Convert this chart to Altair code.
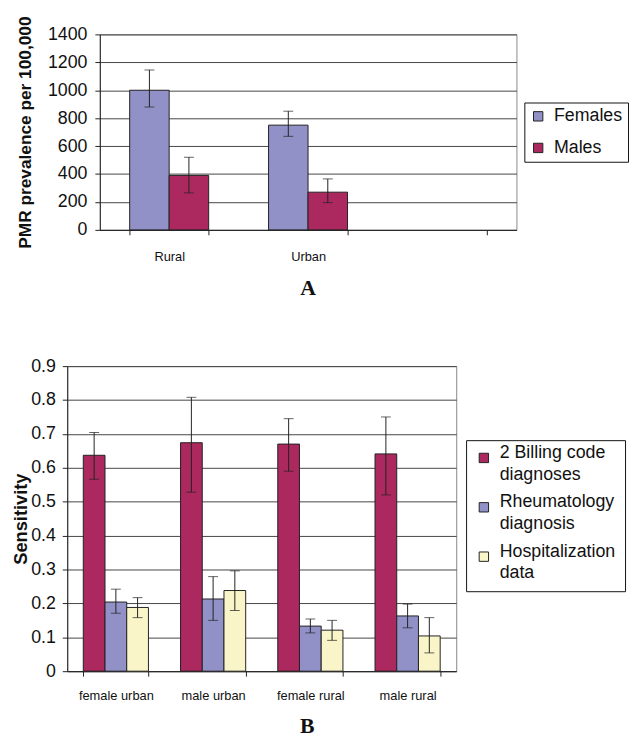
import altair as alt
import pandas as pd

# ---------------- Panel A data ----------------
a_places = ["Rural", "Urban"]
a_domain = ["Rural", "Urban", " "]
a_sexes = ["Females", "Males"]
a_females = [1000, 750]
a_females_low = [880, 670]
a_females_high = [1145, 850]
a_males = [390, 270]
a_males_low = [265, 195]
a_males_high = [520, 365]
a_ticks = [0, 200, 400, 600, 800, 1000, 1200, 1400]

# ---------------- Panel B data ----------------
b_groups = ["female urban", "male urban", "female rural", "male rural"]
b_sources = ["2 Billing code diagnoses", "Rheumatology diagnosis", "Hospitalization data"]
b_label_lines = [["2 Billing code", "diagnoses"], ["Rheumatology", "diagnosis"], ["Hospitalization", "data"]]
b_billing = [0.637, 0.674, 0.670, 0.641]
b_billing_low = [0.566, 0.528, 0.590, 0.520]
b_billing_high = [0.704, 0.808, 0.745, 0.750]
b_rheum = [0.204, 0.213, 0.133, 0.163]
b_rheum_low = [0.171, 0.150, 0.113, 0.128]
b_rheum_high = [0.242, 0.279, 0.154, 0.198]
b_hosp = [0.188, 0.238, 0.121, 0.104]
b_hosp_low = [0.158, 0.179, 0.091, 0.054]
b_hosp_high = [0.217, 0.296, 0.150, 0.158]
b_ticks = [0, 0.1, 0.2, 0.3, 0.4, 0.5, 0.6, 0.7, 0.8, 0.9]

C_PURPLE = "#9191C8"
C_MAROON = "#AB295E"
C_YELLOW = "#FAF5C8"
EDGE = "#222222"
GRID = "#444444"
FONT = "Liberation Sans"

rows_a = []
for i, p in enumerate(a_places):
    rows_a.append(dict(place=p, sex="Females", v=a_females[i], lo=a_females_low[i], hi=a_females_high[i]))
    rows_a.append(dict(place=p, sex="Males", v=a_males[i], lo=a_males_low[i], hi=a_males_high[i]))
dfa = pd.DataFrame(rows_a)

rows_b = []
series = [(b_billing, b_billing_low, b_billing_high),
          (b_rheum, b_rheum_low, b_rheum_high),
          (b_hosp, b_hosp_low, b_hosp_high)]
for i, g in enumerate(b_groups):
    for s, (v, lo, hi) in zip(b_sources, series):
        rows_b.append(dict(group=g, source=s, v=v[i], lo=lo[i], hi=hi[i]))
dfb = pd.DataFrame(rows_b)


def spacer(w):
    # invisible, empty view used only to indent a panel
    return alt.Chart(pd.DataFrame({"s": [0]})).mark_point(size=0, opacity=0).encode(
        x=alt.value(0), y=alt.value(0)
    ).properties(width=w, height=1, view=alt.ViewBackground(stroke="transparent"))


# ---------------- Panel A ----------------
xa = alt.X("place:N", scale=alt.Scale(domain=a_domain, paddingInner=0.43, paddingOuter=0.215),
           axis=alt.Axis(title=None, labelAngle=0, tickBand="extent", tickSize=5, labelPadding=16,
                         labelFont=FONT, labelFontSize=13, labelColor="#111",
                         domainColor=EDGE, tickColor=EDGE, grid=False))
ya = alt.Y("v:Q", scale=alt.Scale(domain=[0, 1400], nice=False),
           axis=alt.Axis(values=a_ticks, tickCount=20, labelOverlap=False, format="d",
                         tickSize=5, labelPadding=8,
                         labelFont=FONT, labelFontSize=18, labelColor="#111",
                         title="PMR prevalence per 100,000",
                         titleFont=FONT, titleFontSize=17.5, titleFontWeight="bold",
                         titlePadding=13, titleColor="#111",
                         grid=True, gridColor=GRID, domainColor=EDGE, tickColor=EDGE))
off_a = alt.XOffset("sex:N", scale=alt.Scale(domain=a_sexes, range=[0, 80], paddingInner=0, paddingOuter=0))
col_a = alt.Color("sex:N", scale=alt.Scale(domain=a_sexes, range=[C_PURPLE, C_MAROON]),
                  legend=alt.Legend(title=None, orient="none", legendX=522, legendY=69,
                                    symbolType="square", symbolSize=90, symbolStrokeColor=EDGE,
                                    symbolStrokeWidth=1, labelFont=FONT, labelFontSize=18,
                                    labelColor="#111", strokeColor="#111", fillColor="white",
                                    padding=5, rowPadding=14, labelOffset=7))

base_a = alt.Chart(dfa)
bars_a = base_a.mark_bar(stroke=EDGE, strokeWidth=1).encode(x=xa, xOffset=off_a, y=ya, color=col_a)
rule_a = base_a.mark_rule(color=EDGE, strokeWidth=1).encode(x=xa, xOffset=off_a, y="lo:Q", y2="hi:Q")
caplo_a = base_a.mark_tick(color=EDGE, size=10, thickness=1).encode(x=xa, xOffset=off_a, y="lo:Q")
caphi_a = base_a.mark_tick(color=EDGE, size=10, thickness=1).encode(x=xa, xOffset=off_a, y="hi:Q")

chart_a = alt.layer(bars_a, rule_a, caplo_a, caphi_a).properties(
    width=422, height=198,
    title=alt.TitleParams("A", orient="bottom", anchor="middle", frame="group",
                          font="Liberation Serif", fontSize=22, fontWeight="bold",
                          color="#111", offset=15)
)

# ---------------- Panel B ----------------
label_expr = ""
for s, lines in zip(b_sources, b_label_lines):
    label_expr += "datum.label == '%s' ? ['%s', '%s'] : " % (s, lines[0], lines[1])
label_expr += "datum.label"

xb = alt.X("group:N", scale=alt.Scale(domain=b_groups, paddingInner=0.33, paddingOuter=0.165),
           axis=alt.Axis(title=None, labelAngle=0, tickBand="extent", tickSize=5, labelPadding=14,
                         labelFont=FONT, labelFontSize=13, labelColor="#111",
                         domainColor=EDGE, tickColor=EDGE, grid=False))
yb = alt.Y("v:Q", scale=alt.Scale(domain=[0, 0.9], nice=False),
           axis=alt.Axis(values=b_ticks, tickCount=20, labelOverlap=False, format=".1~f",
                         tickSize=5, labelPadding=7,
                         labelFont=FONT, labelFontSize=18, labelColor="#111",
                         title="Sensitivity", titleFont=FONT, titleFontSize=18.5,
                         titleFontWeight="bold", titlePadding=0, titleColor="#111",
                         grid=True, gridColor=GRID, domainColor=EDGE, tickColor=EDGE))
off_b = alt.XOffset("source:N", scale=alt.Scale(domain=b_sources, range=[0, 66], paddingInner=0, paddingOuter=0))
col_b = alt.Color("source:N", scale=alt.Scale(domain=b_sources, range=[C_MAROON, C_PURPLE, C_YELLOW]),
                  legend=alt.Legend(title=None, orient="none", legendX=463, legendY=75,
                                    symbolType="square", symbolSize=90, symbolStrokeColor=EDGE,
                                    symbolStrokeWidth=1, labelFont=FONT, labelFontSize=18,
                                    labelColor="#111", labelExpr=label_expr,
                                    labelBaseline="alphabetic", labelLimit=300,
                                    strokeColor="#111", fillColor="white",
                                    padding=9, rowPadding=10, labelOffset=7))

base_b = alt.Chart(dfb)
bars_b = base_b.mark_bar(stroke=EDGE, strokeWidth=1).encode(x=xb, xOffset=off_b, y=yb, color=col_b)
rule_b = base_b.mark_rule(color=EDGE, strokeWidth=1).encode(x=xb, xOffset=off_b, y="lo:Q", y2="hi:Q")
caplo_b = base_b.mark_tick(color=EDGE, size=10, thickness=1).encode(x=xb, xOffset=off_b, y="lo:Q")
caphi_b = base_b.mark_tick(color=EDGE, size=10, thickness=1).encode(x=xb, xOffset=off_b, y="hi:Q")

chart_b = alt.layer(bars_b, rule_b, caplo_b, caphi_b).properties(
    width=394, height=309,
    title=alt.TitleParams("B", orient="bottom", anchor="middle", frame="group",
                          font="Liberation Serif", fontSize=22, fontWeight="bold",
                          color="#111", offset=14, dx=46)
)

row_a = alt.hconcat(spacer(6), chart_a, spacing=0)
row_b = alt.hconcat(spacer(1), chart_b, spacing=0)

chart = alt.vconcat(row_a, row_b, spacing=57).resolve_scale(
    color="independent", x="independent", y="independent", xOffset="independent"
).properties(
    padding={"left": 0, "top": 2, "right": 0, "bottom": 0}
).configure(
    background="white", style={"guide-label": {"lineHeight": 22}}
).configure_view(stroke="#888888", strokeWidth=1)

chart.save("out.html", embed_options={"renderer": "svg", "actions": False})
